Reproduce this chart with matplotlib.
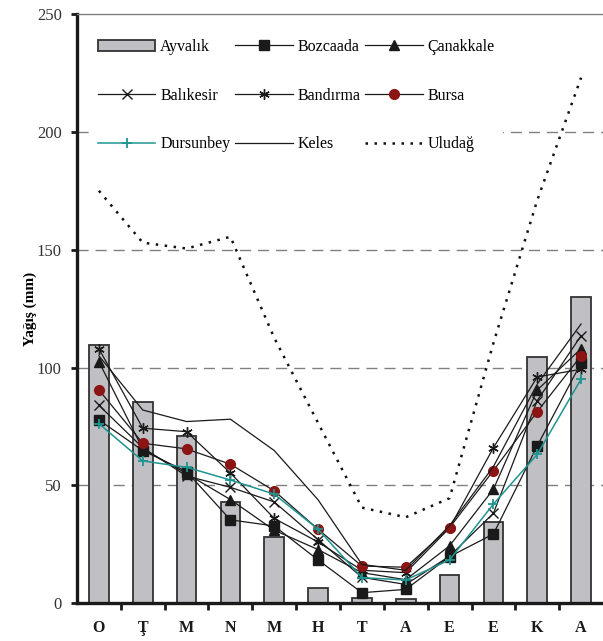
import matplotlib
matplotlib.use("Agg")
import matplotlib.pyplot as plt
import numpy as np

months = ['O', 'Ţ', 'M', 'N', 'M', 'H', 'T', 'A', 'E', 'E', 'K', 'A']

ayvalik   = [109.5, 85.3, 71.1, 42.9, 28.3, 6.4, 2.4, 1.7, 12.0, 34.4, 104.4, 130.0]
bozcaada  = [77.8, 64.8, 55.9, 35.4, 32.8, 18.4, 4.5, 5.9, 19.8, 29.4, 66.8, 102.0]
canakkale = [102.5, 65.5, 55.0, 44.0, 31.0, 22.8, 13.0, 10.0, 24.4, 48.4, 90.5, 108.0]
balikesir = [84.0, 66.0, 54.0, 49.2, 43.0, 27.0, 11.0, 8.0, 20.0, 38.2, 86.0, 113.5]
bandirma  = [108.0, 74.3, 72.8, 55.3, 36.0, 26.0, 14.0, 13.0, 32.0, 66.0, 96.0, 99.3]
bursa     = [90.5, 67.9, 65.5, 59.0, 47.7, 31.4, 15.8, 15.3, 32.1, 56.3, 81.3, 105.0]
dursunbey = [76.2, 60.4, 57.7, 52.3, 46.3, 31.4, 10.9, 9.9, 18.4, 42.1, 63.2, 95.1]
keles     = [105.0, 82.0, 77.1, 78.1, 64.8, 43.9, 16.5, 14.0, 33.0, 58.0, 93.0, 118.5]
uludag    = [175.0, 153.0, 150.5, 155.5, 112.6, 76.5, 40.6, 36.5, 44.6, 110.4, 171.0, 223.0]

serif = ['Liberation Serif', 'DejaVu Serif']

fig = plt.figure(figsize=(6.03, 6.41), dpi=100)
ax = fig.add_axes([77/603, (641-603.3)/641, 1 - 77/603, (603.3-14)/641])

x = np.arange(len(months))

# grid
for yv in [50, 100, 150, 200]:
    ax.axhline(yv, color='#808080', lw=1.0, ls=(0, (8, 5)), zorder=0)

bars = ax.bar(x, ayvalik, width=0.45, color='#c0c0c4', edgecolor='#333333', lw=1.3,
              zorder=1, label='Ayvalık')

lw = 0.9
ms = 6.5
l_boz, = ax.plot(x, bozcaada, color='#1a1a1a', lw=lw, marker='s', ms=ms, label='Bozcaada', zorder=3)
l_can, = ax.plot(x, canakkale, color='#1a1a1a', lw=lw, marker='^', ms=ms, label='Çanakkale', zorder=3)
l_bal, = ax.plot(x, balikesir, color='#1a1a1a', lw=lw, marker='x', ms=ms+1, mew=1.0, label='Balıkesir', zorder=3)
l_ban, = ax.plot(x, bandirma, color='#1a1a1a', lw=lw, marker=(6, 2, 0), ms=ms+1, mew=1.0, label='Bandırma', zorder=3)
l_bur, = ax.plot(x, bursa, color='#1a1a1a', lw=lw, marker='o', ms=ms+0.5, mfc='#8b1414', mec='#8b1414', label='Bursa', zorder=3)
l_dur, = ax.plot(x, dursunbey, color='#1f9490', lw=1.1, marker='+', ms=ms+1, mew=1.3, label='Dursunbey', zorder=4)
l_kel, = ax.plot(x, keles, color='#1a1a1a', lw=lw, label='Keles', zorder=3)
l_ulu, = ax.plot(x, uludag, color='#111111', lw=1.8, ls=(0, (1, 2.6)), label='Uludağ', zorder=3)

ax.set_xlim(-0.5, len(months) - 0.5)
ax.set_ylim(0, 250)

ax.set_yticks([0, 50, 100, 150, 200, 250])
ax.tick_params(axis='y', direction='out', length=4, width=2, colors='#1a1a1a', labelcolor='#333333', pad=7)
for t in ax.get_yticklabels():
    t.set_fontfamily(serif)
    t.set_fontsize(12)

ax.set_xticks(x)
ax.set_xticklabels(months)
ax.set_xticks(np.arange(0.5, len(months) - 0.5, 1), minor=True)
ax.tick_params(axis='x', which='major', length=0, pad=12)
ax.tick_params(axis='x', which='minor', direction='out', length=5, width=2, colors='#1a1a1a')
for t in ax.get_xticklabels():
    t.set_fontfamily(serif)
    t.set_fontweight('bold')
    t.set_fontsize(11.5)
    t.set_color('#1a1a1a')

ax.spines['left'].set_linewidth(2.4)
ax.spines['left'].set_color('#1a1a1a')
ax.spines['bottom'].set_linewidth(2.4)
ax.spines['bottom'].set_color('#1a1a1a')
ax.spines['top'].set_color('#808080')
ax.spines['top'].set_linewidth(1.0)
ax.spines['right'].set_visible(False)

ax.set_ylabel('Yağış (mm)', fontfamily=serif, fontweight='bold', fontsize=11)
ax.yaxis.set_label_coords(-0.076, 0.5)

handles = [bars, l_bal, l_dur, l_boz, l_ban, l_kel, l_can, l_bur, l_ulu]
labels = [h.get_label() for h in handles]
leg = ax.legend(handles, labels, ncol=3, loc='upper left',
                bbox_to_anchor=(90/603, 1 - 31/641), bbox_transform=fig.transFigure,
                prop={'family': serif, 'size': 11.5}, frameon=True, fancybox=False,
                facecolor='white', edgecolor='none', framealpha=1,
                handlelength=3.6, handletextpad=0.3, columnspacing=0.3,
                labelspacing=2.05, borderpad=0.5, borderaxespad=0)
leg.set_zorder(5)

fig.savefig('out.png', dpi=100)
